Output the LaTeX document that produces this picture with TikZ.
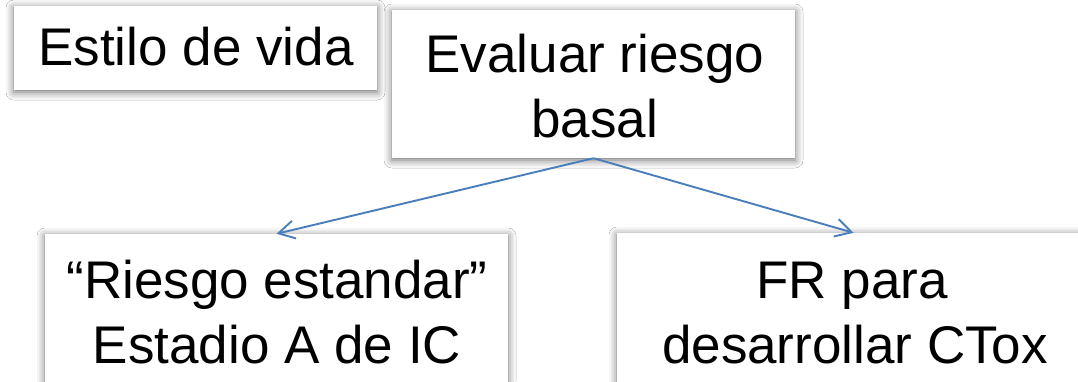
\documentclass[tikz,border=0pt]{standalone}
\usepackage{fontspec}
\setmainfont{Liberation Sans}
\usetikzlibrary{arrows.meta,shadows.blur}
\begin{document}
\begin{tikzpicture}[x=1pt,y=1pt,
  box/.style={rectangle, fill=white, draw=none, inner sep=0pt,
    blur shadow={shadow xshift=0pt, shadow yshift=-2pt, shadow blur radius=8pt, shadow blur extra rounding=0pt, shadow opacity=60}},
  txt/.style={inner sep=0pt, anchor=base, font=\fontsize{53pt}{65pt}\selectfont},
  conn/.style={draw={rgb,255:red,74;green,126;blue,187}, line width=1.9pt,
    -{Straight Barb[length=16pt,width=18pt,line width=1.9pt]}}]
\useasboundingbox (0,0) rectangle (1078,-381);
\fill[white] (0,0) rectangle (1078,-381);
% boxes
\node[box, minimum width=363pt, minimum height=84pt] (lifestyle) at (195.5,-48) {};
\node[box, minimum width=403pt, minimum height=148pt] (eval) at (593.5,-84) {};
\node[box, minimum width=463pt, minimum height=154pt] (std) at (276.5,-311) {};
\node[box, minimum width=473pt, minimum height=155pt] (fr) at (853.5,-310.5) {};
% texts
\node[txt] (t1) at (196,-65) {Estilo de vida};
\node[txt] (t2a) at (595,-72) {Evaluar riesgo};
\node[txt] (t2b) at (594.5,-137) {basal};
\node[txt] (t3a) at (277,-298) {“Riesgo estandar”};
\node[txt] (t3b) at (277,-363) {Estadio A de IC};
\node[txt] (t4a) at (852,-298) {FR para};
\node[txt] (t4b) at (855,-363) {desarrollar CTox};
% connectors
\draw[conn] (eval.south) -- (std.north);
\draw[conn] (eval.south) -- (fr.north);
\end{tikzpicture}
\end{document}
